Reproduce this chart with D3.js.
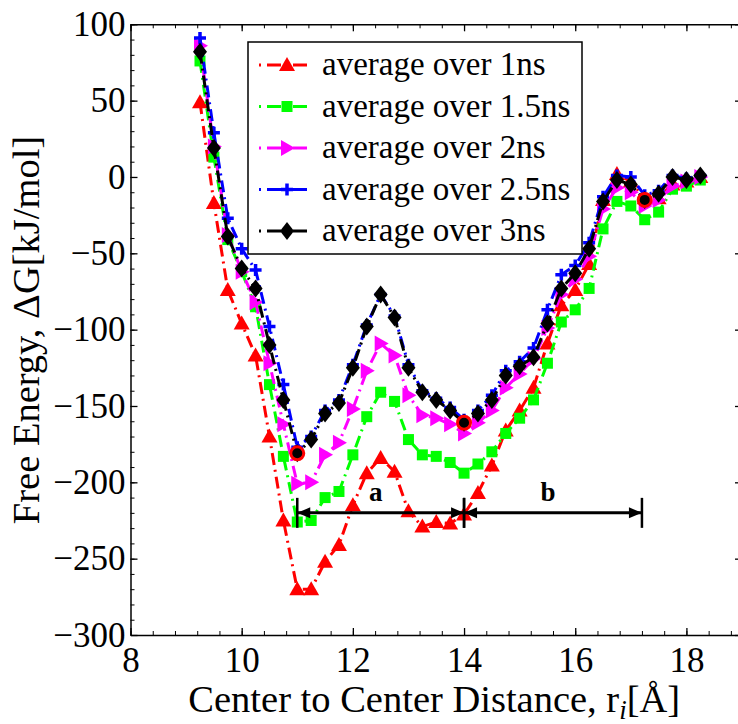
<!DOCTYPE html>
<html>
<head>
<meta charset="utf-8">
<script src="https://cdn.jsdelivr.net/npm/d3@7"></script>
<style>
  body { margin: 0; background: #fff; }
  svg { display: block; }
</style>
</head>
<body>
<svg id="free-energy" width="738" height="724"></svg>
<script>
// center to center distance (Å)
const distances = [9.25, 9.5, 9.75, 10, 10.25, 10.5, 10.75, 11, 11.25, 11.5, 11.75, 12,
  12.25, 12.5, 12.75, 13, 13.25, 13.5, 13.75, 14, 14.25, 14.5, 14.75, 15, 15.25, 15.5,
  15.75, 16, 16.25, 16.5, 16.75, 17, 17.25, 17.5, 17.75, 18, 18.25];

// free energy (kJ/mol), one array per averaging window
const avg1ns = [49, -17, -74, -96, -117, -170, -225, -270, -270, -252, -241, -215,
  -194, -184, -193, -219, -229, -226, -227, -221, -207, -189, -166, -153, -138, -109,
  -84, -74, -57, -15, 2, -3, -14, -14, -5, -3, 0];
const avg15ns = [76, 13, -41, -62, -85, -136, -183, -226, -225, -210, -206, -182,
  -157, -141, -147, -172, -182, -183, -187, -194, -188, -180, -168, -158, -146, -122,
  -95, -87, -73, -34, -16, -19, -28, -23, -8, -6, -2];
const avg2ns = [86, 20, -38, -62, -82, -122, -162, -201, -200, -182, -174, -152,
  -127, -109, -117, -143, -156, -158, -162, -168, -161, -153, -138, -129, -119, -99,
  -77, -67, -52, -21, -7, -10, -19, -15, -6, -3, 0];
const avg25ns = [91, 29, -27, -47, -61, -98, -136, -177, -170, -153, -146, -123,
  -97, -77, -91, -123, -140, -145, -151, -159, -153, -143, -127, -121, -112, -87,
  -64, -58, -43, -13, 1, 0, -12, -9, 1, -1, 1];
const avg3ns = [82, 19, -39, -60, -73, -110, -146, -181, -172, -155, -148, -125,
  -98, -77, -92, -125, -141, -146, -153, -161, -155, -146, -130, -124, -118, -96,
  -73, -63, -47, -16, -2, -5, -15, -11, 0, -2, 1];

const seriesLabels = ["average over 1ns", "average over 1.5ns", "average over 2ns",
  "average over 2.5ns", "average over 3ns"];

// circled minima / plateau
const circledX = [11, 14, 17.25];
const circledY = [-181, -161, -15];

// distance intervals a and b
const intervalLabels = ["a", "b"];
const intervalStart = [11, 14];
const intervalEnd = [14, 17.2];
const intervalLevel = -220;

const xTicks = [8, 10, 12, 14, 16, 18];
const yTicks = [-300, -250, -200, -150, -100, -50, 0, 50, 100];

const serif = '"Liberation Serif", "Times New Roman", Times, serif';
const margin = { top: 24.3, right: -4, bottom: 89, left: 130.5 };
const svg = d3.select("#free-energy").style("font-family", serif);
const width = +svg.attr("width") - margin.left - margin.right;
const height = +svg.attr("height") - margin.top - margin.bottom;
const g = svg.append("g").attr("transform", `translate(${margin.left},${margin.top})`);

const x = d3.scaleLinear().domain([8, 19]).range([0, width]);
const y = d3.scaleLinear().domain([-300, 100]).range([height, 0]);

const styles = [
  { color: "#ff0000", shape: "triUp" },
  { color: "#00ff00", shape: "square" },
  { color: "#ff00ff", shape: "triRight" },
  { color: "#0000ff", shape: "plus" },
  { color: "#000000", shape: "diamond" },
];
const seriesValues = [avg1ns, avg15ns, avg2ns, avg25ns, avg3ns];

function drawMarker(sel, shape, color) {
  if (shape === "triUp") {
    sel.append("path").attr("d", "M0,-8L8,6L-8,6Z").attr("fill", color);
  } else if (shape === "square") {
    sel.append("rect").attr("x", -5.5).attr("y", -5.5).attr("width", 11).attr("height", 11).attr("fill", color);
  } else if (shape === "triRight") {
    sel.append("path").attr("d", "M-6,-8L8,0L-6,8Z").attr("fill", color);
  } else if (shape === "plus") {
    sel.append("path").attr("d", "M-6,0H6M0,-6V6").attr("stroke", color).attr("stroke-width", 3.5).attr("fill", "none");
  } else {
    sel.append("path").attr("d", "M0,-9L7,0L0,9L-7,0Z").attr("fill", color);
  }
}

// axes with inward ticks on all four sides
const minorX = d3.range(0, 28).map((i) => 8 + i * 0.4).filter((v) => v <= 19);
const minorY = d3.range(-300, 101, 10);

function boxAxis(axisFn, scale, major, minor, transform, labels) {
  const gMinor = g.append("g").attr("transform", transform)
    .call(axisFn(scale).tickValues(minor).tickSize(-4).tickSizeOuter(0).tickFormat(""));
  gMinor.select(".domain").remove();
  const gMajor = g.append("g").attr("transform", transform)
    .call(axisFn(scale).tickValues(major).tickSize(-7).tickSizeOuter(0)
      .tickPadding(axisFn === d3.axisBottom ? 12 : 5)
      .tickFormat(labels ? d3.format("") : ""));
  gMajor.selectAll("line").attr("stroke-width", 1.3);
  gMajor.select(".domain").attr("stroke-width", 1.5);
  gMajor.selectAll("text").style("font-family", serif).style("font-size", "35px").attr("fill", "#000");
}

boxAxis(d3.axisBottom, x, xTicks, minorX, `translate(0,${height})`, true);
boxAxis(d3.axisTop, x, xTicks, minorX, "translate(0,0)", false);
boxAxis(d3.axisLeft, y, yTicks, minorY, "translate(0,0)", true);
boxAxis(d3.axisRight, y, yTicks, minorY, `translate(${width},0)`, false);

// series lines and markers
const line = d3.line().x((d) => x(d[0])).y((d) => y(d[1]));
seriesValues.forEach((vals, i) => {
  const pts = distances.map((d, j) => [d, vals[j]]);
  const s = styles[i];
  const sg = g.append("g").attr("class", "series");
  sg.append("path").datum(pts).attr("d", line)
    .attr("fill", "none").attr("stroke", s.color).attr("stroke-width", 3)
    .attr("stroke-dasharray", "12,5,2,5");
  sg.selectAll(".pt").data(pts).join("g").attr("class", "pt")
    .attr("transform", (d) => `translate(${x(d[0])},${y(d[1])})`)
    .each(function () { drawMarker(d3.select(this), s.shape, s.color); });
});

// circled points
circledX.forEach((cx, i) => {
  g.append("circle").attr("cx", x(cx)).attr("cy", y(circledY[i])).attr("r", 6.5)
    .attr("fill", "none").attr("stroke", "#ff0000").attr("stroke-width", 3);
  g.append("circle").attr("cx", x(cx)).attr("cy", y(circledY[i])).attr("r", 2.5).attr("fill", "#000");
});

// interval arrows
const ay = y(intervalLevel);
intervalStart.forEach((x0, i) => {
  const xa = x(x0), xb = x(intervalEnd[i]);
  g.append("line").attr("x1", xa).attr("x2", xb).attr("y1", ay).attr("y2", ay)
    .attr("stroke", "#000").attr("stroke-width", 3);
  g.append("path").attr("d", `M${xa},${ay}l13,-5.5v11Z`).attr("fill", "#000");
  g.append("path").attr("d", `M${xb},${ay}l-13,-5.5v11Z`).attr("fill", "#000");
  [xa, xb].forEach((xv) => {
    g.append("line").attr("x1", xv).attr("x2", xv).attr("y1", ay - 15).attr("y2", ay + 15)
      .attr("stroke", "#000").attr("stroke-width", 2.5);
  });
  g.append("text").attr("x", (xa + xb) / 2 - 5).attr("y", ay - 12)
    .attr("text-anchor", "middle").style("font-family", serif)
    .style("font-size", "27px").style("font-weight", "bold")
    .text(intervalLabels[i]);
});

// legend
const legend = svg.append("g").attr("transform", "translate(248,42)");
legend.append("rect").attr("width", 334).attr("height", 212)
  .attr("fill", "#fff").attr("stroke", "#000").attr("stroke-width", 1.5);
seriesLabels.forEach((label, i) => {
  const s = styles[i];
  const ry = 23 + i * 41.5;
  legend.append("line").attr("x1", 11).attr("x2", 65).attr("y1", ry).attr("y2", ry)
    .attr("stroke", s.color).attr("stroke-width", 3).attr("stroke-dasharray", "2,6,14,12,14,6");
  drawMarker(legend.append("g").attr("transform", `translate(39,${ry})`), s.shape, s.color);
  legend.append("text").attr("x", 74).attr("y", ry + 10)
    .style("font-family", serif).style("font-size", "33px").text(label);
});

// axis titles
const xTitle = svg.append("text").attr("x", margin.left + (742 - margin.left) / 2 - 2).attr("y", 712)
  .attr("text-anchor", "middle").style("font-family", serif).style("font-size", "38.5px");
xTitle.append("tspan").text("Center to Center Distance, r");
xTitle.append("tspan").style("font-style", "italic").style("font-size", "27px").attr("dy", 7).text("i");
xTitle.append("tspan").attr("dy", -7).text("[Å]");

svg.append("text").attr("transform", "translate(39,330) rotate(-90)")
  .attr("text-anchor", "middle").style("font-family", serif).style("font-size", "38.5px")
  .text("Free Energy, ΔG[kJ/mol]");
</script>
</body>
</html>
